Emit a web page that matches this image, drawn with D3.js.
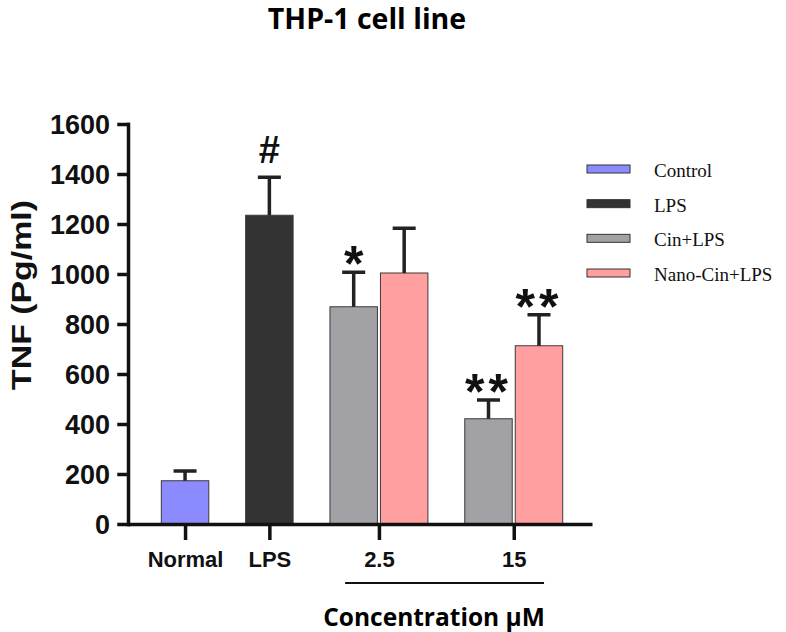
<!DOCTYPE html>
<html>
<head>
<meta charset="utf-8">
<script src="https://cdn.jsdelivr.net/npm/d3@7"></script>
<style>
  html, body { margin: 0; padding: 0; background: #fff; }
  svg { display: block; }
</style>
</head>
<body>
<svg id="chart" width="786" height="632"></svg>
<script>
// ---------------- data ----------------
const chartTitle = "THP-1 cell line";
const yAxisTitle = "TNF (Pg/ml)";
const xAxisTitle = "Concentration µM";
const categories = ["Normal", "LPS", "2.5", "15"];
const bracketCategories = ["2.5", "15"];
const seriesNames = ["Control", "LPS", "Cin+LPS", "Nano-Cin+LPS"];
const seriesColors = ["#8b8bff", "#333333", "#a2a2a6", "#ff9f9f"];
const barCategory = ["Normal", "LPS", "2.5", "2.5", "15", "15"];
const barSeries = ["Control", "LPS", "Cin+LPS", "Nano-Cin+LPS", "Cin+LPS", "Nano-Cin+LPS"];
const barMean = [173, 1235, 869, 1004, 421, 713];
const barError = [39, 152, 138, 179, 75, 124];
const barSignif = ["", "#", "*", "", "**", "**"];
const yTicks = [0, 200, 400, 600, 800, 1000, 1200, 1400, 1600];

// ---------------- layout ----------------
const svg = d3.select("#chart");
const plotLeft = 128, plotRight = 592, plotTop = 124, plotBottom = 524;
const GAP = 0.67, LEFT_PAD = 1.13, RIGHT_PAD = 1.05, BAR_W = 0.94;

// slot index for each bar (derived from grouping)
const slots = [];
let s = 0;
barCategory.forEach((c, i) => {
  if (i > 0) { s += 1; if (c !== barCategory[i - 1]) s += GAP; }
  slots.push(s);
});

const x = d3.scaleLinear()
  .domain([d3.min(slots) - LEFT_PAD, d3.max(slots) + RIGHT_PAD])
  .range([plotLeft, plotRight]);
const y = d3.scaleLinear().domain([0, 1600]).range([plotBottom, plotTop]);
const color = d3.scaleOrdinal().domain(seriesNames).range(seriesColors);
const slotW = x(1) - x(0);

const catCenter = c => d3.mean(slots.filter((_, i) => barCategory[i] === c));

const bars = barMean.map((m, i) => ({
  cat: barCategory[i], ser: barSeries[i], mean: m, err: barError[i],
  sig: barSignif[i], slot: slots[i]
}));

// title
svg.append("text")
  .attr("x", 367).attr("y", 29)
  .attr("text-anchor", "middle")
  .attr("font-family", "'Open Sans', sans-serif")
  .attr("font-weight", "bold")
  .attr("font-size", 28.5)
  .attr("fill", "#000")
  .text(chartTitle);

// bars
svg.append("g").selectAll("rect").data(bars).join("rect")
  .attr("x", d => x(d.slot) - slotW * BAR_W / 2)
  .attr("width", slotW * BAR_W)
  .attr("y", d => y(d.mean))
  .attr("height", d => y(0) - y(d.mean))
  .attr("fill", d => color(d.ser))
  .attr("stroke", "#3a3a3a")
  .attr("stroke-width", 1);

// error bars
const eg = svg.append("g").attr("stroke", "#222").attr("stroke-width", 3.5);
eg.selectAll("line.v").data(bars).join("line").attr("class", "v")
  .attr("x1", d => x(d.slot)).attr("x2", d => x(d.slot))
  .attr("y1", d => y(d.mean)).attr("y2", d => y(d.mean + d.err));
eg.selectAll("line.c").data(bars).join("line").attr("class", "c")
  .attr("x1", d => x(d.slot) - 11.5).attr("x2", d => x(d.slot) + 11.5)
  .attr("y1", d => y(d.mean + d.err)).attr("y2", d => y(d.mean + d.err));

// significance marks
svg.append("g").selectAll("text").data(bars.filter(d => d.sig)).join("text")
  .attr("x", d => x(d.slot))
  .attr("y", d => d.sig === "#" ? y(d.mean + d.err) - 14 : y(d.mean + d.err) + 9)
  .attr("text-anchor", "middle")
  .attr("font-family", "'Liberation Sans', Arial, sans-serif")
  .attr("font-weight", "bold")
  .attr("font-size", d => d.sig === "#" ? 38 : 50)
  .attr("letter-spacing", d => d.sig === "**" ? 4 : 0)
  .attr("fill", "#111")
  .text(d => d.sig);

// y axis
const yAxis = svg.append("g")
  .attr("transform", `translate(${plotLeft},0)`)
  .call(d3.axisLeft(y).tickValues(yTicks).tickFormat(d3.format("d"))
    .tickSize(9).tickSizeOuter(0).tickPadding(9));
yAxis.selectAll("path, line").attr("stroke", "#111").attr("stroke-width", 3.5).attr("stroke-linecap", "square");
yAxis.selectAll("text")
  .attr("font-family", "'Liberation Sans', Arial, sans-serif")
  .attr("font-weight", "bold")
  .attr("font-size", 27)
  .attr("fill", "#111")
  .attr("dy", "0.36em");

// x axis
const xAxis = svg.append("g")
  .attr("transform", `translate(0,${plotBottom})`)
  .call(d3.axisBottom(x)
    .tickValues(categories.map(catCenter))
    .tickFormat((d, i) => categories[i])
    .tickSize(16).tickSizeOuter(0).tickPadding(11));
xAxis.selectAll("path").attr("stroke", "#111").attr("stroke-width", 3.5);
xAxis.selectAll("line").attr("stroke", "#111").attr("stroke-width", 3.5);
xAxis.selectAll("text")
  .attr("font-family", "'Liberation Sans', Arial, sans-serif")
  .attr("font-weight", "bold")
  .attr("font-size", 22)
  .attr("fill", "#111");

// bracket under concentration categories
svg.append("line")
  .attr("x1", x(catCenter(bracketCategories[0])) - 0.67 * slotW)
  .attr("x2", x(catCenter(bracketCategories[1])) + 0.6 * slotW)
  .attr("y1", 583).attr("y2", 583)
  .attr("stroke", "#111").attr("stroke-width", 2);

svg.append("text")
  .attr("x", 434).attr("y", 626)
  .attr("text-anchor", "middle")
  .attr("font-family", "'Open Sans', sans-serif")
  .attr("font-weight", "bold")
  .attr("font-size", 24.5)
  .attr("fill", "#000")
  .text(xAxisTitle);

// y axis title
svg.append("text")
  .attr("transform", "translate(31,295) rotate(-90)")
  .attr("text-anchor", "middle")
  .attr("font-family", "'Liberation Sans', Arial, sans-serif")
  .attr("font-weight", "bold")
  .attr("font-size", 27)
  .attr("textLength", 190)
  .attr("lengthAdjust", "spacingAndGlyphs")
  .attr("fill", "#111")
  .text(yAxisTitle);

// legend
const legendY = d3.scaleLinear().domain([0, seriesNames.length - 1]).range([169, 273]);
const lg = svg.append("g").selectAll("g").data(seriesNames).join("g")
  .attr("transform", (d, i) => `translate(587,${legendY(i)})`);
lg.append("rect")
  .attr("x", 0).attr("y", -4).attr("width", 43).attr("height", 8)
  .attr("fill", d => color(d))
  .attr("stroke", "#333").attr("stroke-width", 1);
lg.append("text")
  .attr("x", 67).attr("y", 8)
  .attr("font-family", "'Liberation Serif', 'Times New Roman', serif")
  .attr("font-size", 19)
  .attr("fill", "#111")
  .text(d => d);
</script>
</body>
</html>
